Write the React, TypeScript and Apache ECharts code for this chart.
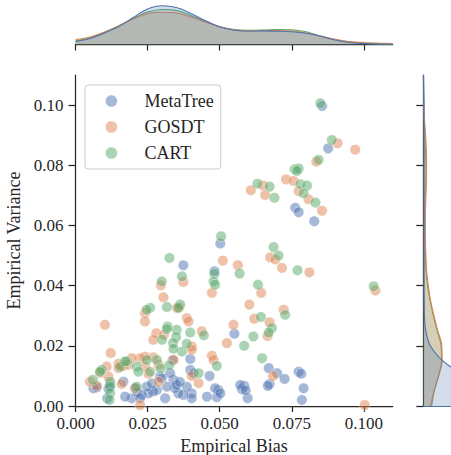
import React, { useEffect, useRef } from "react";
import * as echarts from "echarts";

// Methods and their palette (seaborn "deep")
const methods = ["MetaTree", "GOSDT", "CART"];
const palette = ["#4C72B0", "#DD8452", "#55A868"];

// Tick labels shared by joint and marginal axes
const biasTicks = [0, 0.025, 0.05, 0.075, 0.1];
const varianceTicks = [0, 0.02, 0.04, 0.06, 0.08, 0.1];

// [empirical bias, empirical variance] per run
const metaTreePoints = [
  [0.0855, 0.0997], [0.0876, 0.0856], [0.0762, 0.0659], [0.0774, 0.0644], [0.0828, 0.0614],
  [0.0502, 0.054], [0.0374, 0.0468], [0.0482, 0.0448], [0.0551, 0.024],
  [0.067, 0.0126], [0.0699, 0.0109], [0.0725, 0.009], [0.0673, 0.0073], [0.0667, 0.0067],
  [0.0774, 0.0114], [0.0783, 0.0107], [0.0791, 0.0059], [0.0785, 0.002], [0.0585, 0.0067],
  [0.0577, 0.0056], [0.0597, 0.0026], [0.0571, 0.007], [0.059, 0.0052],
  [0.0398, 0.0156], [0.0398, 0.012], [0.0465, 0.01], [0.0496, 0.0053], [0.049, 0.0029],
  [0.0456, 0.0031], [0.0409, 0.0109], [0.0484, 0.0059], [0.0502, 0.0042], [0.0403, 0.0042],
  [0.0403, 0.0026], [0.0386, 0.0064], [0.0374, 0.0037], [0.0357, 0.0042], [0.0345, 0.0059],
  [0.034, 0.0087], [0.0328, 0.0109], [0.0317, 0.0064], [0.0311, 0.0026], [0.0293, 0.0098],
  [0.0299, 0.0092], [0.0282, 0.0053], [0.027, 0.0048], [0.0253, 0.0042], [0.0247, 0.0064],
  [0.023, 0.0037], [0.0195, 0.0026], [0.0207, 0.0059], [0.0172, 0.0031], [0.0166, 0.0081],
  [0.012, 0.007], [0.0114, 0.0058], [0.011, 0.0025], [0.0062, 0.0059], [0.0074, 0.0062],
  [0.0337, 0.0153], [0.035, 0.007], [0.0362, 0.008], [0.0265, 0.0075], [0.0215, 0.0045],
  [0.0224, 0.0026],
];

const gosdtPoints = [
  [0.0909, 0.0873], [0.097, 0.0852], [0.0835, 0.0812], [0.073, 0.0753], [0.0756, 0.0748],
  [0.065, 0.0733], [0.0608, 0.0717], [0.0658, 0.0701], [0.0774, 0.0714], [0.0808, 0.0687],
  [0.0855, 0.0649], [0.0675, 0.0494], [0.0693, 0.0487], [0.0716, 0.0459], [0.0811, 0.0444],
  [0.0563, 0.0468], [0.0644, 0.0376], [0.0603, 0.0337], [0.0722, 0.032], [0.104, 0.0384],
  [0.062, 0.029], [0.0673, 0.0278], [0.0666, 0.0233], [0.0685, 0.01], [0.1003, 0.0003],
  [0.0548, 0.027], [0.0525, 0.0209], [0.0511, 0.0483], [0.0374, 0.0412], [0.0296, 0.0401],
  [0.0305, 0.0361], [0.0473, 0.0376], [0.036, 0.0329], [0.0351, 0.0326], [0.0241, 0.0309],
  [0.0241, 0.0281], [0.0386, 0.0292], [0.0392, 0.0281], [0.028, 0.0242], [0.0307, 0.0237],
  [0.0438, 0.0248], [0.0403, 0.0198], [0.0403, 0.0187], [0.0473, 0.0167], [0.0479, 0.0153],
  [0.034, 0.0153], [0.0403, 0.01], [0.0427, 0.0076], [0.0102, 0.027], [0.0122, 0.0176],
  [0.027, 0.0162], [0.0241, 0.0164], [0.0224, 0.0159], [0.0195, 0.0159], [0.0149, 0.014],
  [0.0166, 0.0133], [0.0108, 0.0131], [0.0253, 0.0107], [0.0288, 0.0137], [0.005, 0.0081],
  [0.0074, 0.0067], [0.0114, 0.0098], [0.016, 0.0073], [0.0207, 0.0059], [0.0224, 0.0003],
  [0.0288, 0.0081], [0.0149, 0.0126], [0.0184, 0.0137], [0.0241, 0.0131], [0.0085, 0.011],
  [0.027, 0.022],
];

const cartPoints = [
  [0.0849, 0.1006], [0.0889, 0.0884], [0.0843, 0.0818], [0.076, 0.0787], [0.0774, 0.0789],
  [0.0768, 0.0781], [0.0631, 0.0739], [0.0673, 0.0729], [0.069, 0.0692], [0.078, 0.0737],
  [0.0803, 0.0733], [0.0791, 0.0707], [0.0832, 0.0676], [0.0687, 0.0528], [0.0704, 0.05],
  [0.077, 0.0451], [0.0569, 0.044], [0.0633, 0.0403], [0.1034, 0.0398], [0.0727, 0.0303],
  [0.0643, 0.0296], [0.0681, 0.0259], [0.067, 0.0244], [0.0617, 0.0231], [0.0585, 0.02],
  [0.0647, 0.0159], [0.0505, 0.0564], [0.0326, 0.0492], [0.0482, 0.044], [0.0479, 0.0414],
  [0.0484, 0.0403], [0.0369, 0.0431], [0.0299, 0.0414], [0.0259, 0.0326], [0.0317, 0.0329],
  [0.0363, 0.0337], [0.0357, 0.0326], [0.0247, 0.032], [0.0319, 0.0264], [0.0351, 0.0253],
  [0.0317, 0.0256], [0.0349, 0.0229], [0.0398, 0.0244], [0.0338, 0.0209], [0.0369, 0.0181],
  [0.0386, 0.0207], [0.049, 0.0133], [0.0427, 0.0109], [0.0445, 0.0235], [0.0282, 0.0153],
  [0.0178, 0.0148], [0.0155, 0.0131], [0.0091, 0.012], [0.0212, 0.0131], [0.0218, 0.0114],
  [0.0259, 0.0114], [0.006, 0.0087], [0.012, 0.0081], [0.012, 0.0064], [0.012, 0.0042],
  [0.0118, 0.002], [0.0212, 0.0064], [0.0172, 0.0148], [0.0247, 0.0153], [0.0085, 0.0114],
  [0.03, 0.022], [0.0325, 0.0135], [0.0295, 0.0125], [0.034, 0.019],
];

// Marginal densities (relative units) sampled along bias
const biasGrid = [
  0, 0.005, 0.01, 0.015, 0.02, 0.025, 0.03, 0.035, 0.04, 0.045, 0.05, 0.055,
  0.06, 0.065, 0.07, 0.075, 0.08, 0.085, 0.09, 0.095, 0.1, 0.105, 0.11,
];
const metaTreeBiasDensity = [3, 6, 11.5, 18, 27, 35.5, 38.7, 37, 31, 24, 17.7, 14.3, 13.3, 13.6, 13.3, 12.7, 11.2, 8.2, 4.5, 2, 1, 0.5, 0.3];
const gosdtBiasDensity = [5, 7.5, 12.5, 18.7, 25.5, 31, 32.3, 31.5, 27.5, 22.5, 17.7, 14.7, 13.8, 13.8, 14, 13.5, 11.5, 8.4, 5.3, 3, 2, 1.4, 1];
const cartBiasDensity = [3.7, 6.8, 12, 18.5, 26, 32.5, 35, 34, 29, 23, 17.7, 15, 14.2, 14.4, 15, 14.8, 12.7, 8.5, 5, 2.5, 1.3, 0.6, 0.3];

// Marginal densities (relative units) sampled along variance
const varianceGrid = [
  "0.000", "0.005", "0.010", "0.015", "0.020", "0.025", "0.030", "0.035", "0.040", "0.045", "0.050", "0.055",
  "0.060", "0.065", "0.070", "0.075", "0.080", "0.085", "0.090", "0.095", "0.100", "0.105", "0.110",
];
const metaTreeVarianceDensity = [40, 52, 40, 19.5, 7, 2.5, 1.2, 0.9, 0.8, 0.8, 0.8, 0.8, 0.8, 0.8, 0.8, 0.8, 0.8, 0.8, 0.7, 0.6, 0.5, 0.3, 0.2];
const gosdtVarianceDensity = [7.3, 10.7, 15.2, 18.8, 18.5, 14.5, 10.7, 7.3, 5, 3.3, 2.6, 2.2, 2, 2.2, 2.6, 3.1, 3.3, 3, 2.3, 1.2, 0.6, 0.3, 0.1];
const cartVarianceDensity = [8.3, 11, 15.3, 18.3, 17.8, 13.8, 10, 6.8, 4.3, 2.8, 2.1, 2, 2, 2, 2.2, 2.5, 2.7, 2.2, 1.5, 1, 0.7, 0.4, 0.2];

const FONT = "Liberation Serif";
const INK = "#262626";

const points = [metaTreePoints, gosdtPoints, cartPoints];
const biasDensity = [metaTreeBiasDensity, gosdtBiasDensity, cartBiasDensity];
const varianceDensity = [metaTreeVarianceDensity, gosdtVarianceDensity, cartVarianceDensity];

const spine = { show: true, lineStyle: { color: INK, width: 1.25 } };

function buildOption() {
  const scatterSeries = methods.map((name, i) => ({
    name,
    type: "scatter",
    xAxisIndex: 0,
    yAxisIndex: 0,
    data: points[i],
    symbol: "circle",
    symbolSize: 10.5,
    itemStyle: { color: palette[i], opacity: 0.5, borderColor: "#ffffff", borderWidth: 0.8 },
    emphasis: { disabled: true },
    z: 3,
  }));

  // marginal curves drawn last-to-first so the first method sits on top
  const order = [2, 1, 0];
  const topSeries = order.map((i) => ({
    name: methods[i] + " bias density",
    type: "line",
    xAxisIndex: 1,
    yAxisIndex: 1,
    data: biasGrid.map((b, k) => [b, biasDensity[i][k]]),
    smooth: 0.35,
    showSymbol: false,
    lineStyle: { color: palette[i], width: 1.1 },
    areaStyle: { color: palette[i], opacity: 0.25 },
    emphasis: { disabled: true },
    z: 2 + (2 - i) * 0.1,
  }));
  const rightSeries = order.map((i) => ({
    name: methods[i] + " variance density",
    type: "line",
    xAxisIndex: 2,
    yAxisIndex: 2,
    data: varianceDensity[i],
    smooth: 0.35,
    showSymbol: false,
    lineStyle: { color: palette[i], width: 1.1 },
    areaStyle: { color: palette[i], opacity: 0.25 },
    emphasis: { disabled: true },
    z: 2 + (2 - i) * 0.1,
  }));

  return {
    animation: false,
    backgroundColor: "#ffffff",
    grid: [
      { left: 75.5, top: 75, width: 317.2, height: 331, outerBoundsMode: "none" },
      { left: 75.5, top: 0, width: 317.2, height: 44.5, outerBoundsMode: "none" },
      { left: 423.3, top: 75, width: 66, height: 331, outerBoundsMode: "none" },
    ],
    legend: {
      data: methods.map((name, i) => ({
        name,
        itemStyle: { color: palette[i], opacity: 0.5, borderColor: "#ffffff", borderWidth: 0.8 },
      })),
      orient: "vertical",
      left: 85,
      top: 85,
      icon: "circle",
      itemWidth: 12,
      itemHeight: 12,
      itemGap: 6,
      padding: [6, 7, 6, 20],
      backgroundColor: "rgba(255,255,255,0.8)",
      borderColor: "#cccccc",
      borderWidth: 1,
      borderRadius: 3,
      selectedMode: false,
      textStyle: {
        fontFamily: FONT,
        fontSize: 18,
        color: INK,
        lineHeight: 20,
        padding: [0, 0, 0, 22],
      },
    },
    xAxis: [
      {
        gridIndex: 0,
        type: "value",
        min: 0,
        max: 0.11,
        name: "Empirical Bias",
        nameLocation: "middle",
        nameGap: 29,
        nameTextStyle: { fontFamily: FONT, fontSize: 18, color: INK },
        axisLine: spine,
        axisTick: { show: true, customValues: biasTicks, length: 6, lineStyle: { color: INK, width: 1.25 } },
        axisLabel: {
          customValues: biasTicks,
          formatter: (v: number) => v.toFixed(3),
          fontFamily: FONT,
          fontSize: 17,
          color: INK,
          margin: 9,
        },
        splitLine: { show: false },
      },
      {
        gridIndex: 1,
        type: "value",
        min: 0,
        max: 0.11,
        axisLine: spine,
        axisTick: { show: true, customValues: biasTicks, length: 6, lineStyle: { color: INK, width: 1.25 } },
        axisLabel: { show: false },
        splitLine: { show: false },
      },
      {
        gridIndex: 2,
        type: "value",
        min: 0,
        max: 66,
        axisLine: { show: true, lineStyle: { color: "#4C72B0", width: 1 } },
        axisTick: { show: false },
        axisLabel: { show: false },
        splitLine: { show: false },
      },
    ],
    yAxis: [
      {
        gridIndex: 0,
        type: "value",
        min: 0,
        max: 0.11,
        name: "Empirical Variance",
        nameLocation: "middle",
        nameGap: 45,
        nameRotate: 90,
        nameTextStyle: { fontFamily: FONT, fontSize: 18, color: INK },
        axisLine: spine,
        axisTick: { show: true, customValues: varianceTicks, length: 7, lineStyle: { color: INK, width: 1.25 } },
        axisLabel: {
          customValues: varianceTicks,
          formatter: (v: number) => v.toFixed(2),
          fontFamily: FONT,
          fontSize: 17,
          color: INK,
          margin: 12,
        },
        splitLine: { show: false },
      },
      {
        gridIndex: 1,
        type: "value",
        min: 0,
        max: 44.5,
        show: false,
      },
      {
        gridIndex: 2,
        type: "category",
        data: varianceGrid,
        boundaryGap: false,
        axisLine: spine,
        axisTick: {
          show: true,
          length: 7,
          interval: (idx: number) => idx % 4 === 0,
          lineStyle: { color: INK, width: 1.25 },
        },
        axisLabel: { show: false },
        splitLine: { show: false },
      },
    ],
    series: [...topSeries, ...rightSeries, ...scatterSeries],
  };
}

export default function App() {
  const ref = useRef<HTMLDivElement>(null);
  useEffect(() => {
    document.body.style.margin = "0";
    const chart = echarts.init(ref.current!, null, { renderer: "svg" });
    chart.setOption(buildOption() as any);
    return () => chart.dispose();
  }, []);
  return <div ref={ref} style={{ width: 451, height: 455 }} />;
}
